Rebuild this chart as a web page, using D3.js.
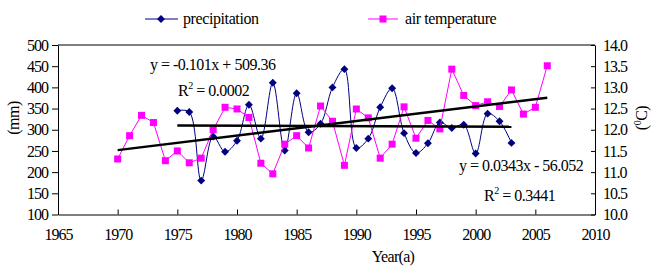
<!DOCTYPE html>
<html>
<head>
<meta charset="utf-8">
<script src="https://cdn.jsdelivr.net/npm/d3@7/dist/d3.min.js"></script>
<style>
  html, body { margin: 0; padding: 0; background: #fff; }
  svg text { font-family: "Liberation Serif", "Times New Roman", serif; fill: #000; }
</style>
</head>
<body>
<svg id="chart" width="653" height="266"></svg>
<script>
// ---- data ----
const precipYears = [1975,1976,1977,1978,1979,1980,1981,1982,1983,1984,1985,1986,1987,1988,1989,1990,1991,1992,1993,1994,1995,1996,1997,1998,1999,2000,2001,2002,2003];
const precipValues = [345,342,180,284,248,274,359,279,411,251,386,294,314,400,443,257,279,353,398,292,245,268,317,304,312,244,338,320,269];

const tempYears = [1970,1971,1972,1973,1974,1975,1976,1977,1978,1979,1980,1981,1982,1983,1984,1985,1986,1987,1988,1989,1990,1991,1992,1993,1994,1995,1996,1997,1998,1999,2000,2001,2002,2003,2004,2005,2006];
const tempValues = [11.31,11.86,12.34,12.17,11.27,11.50,11.22,11.33,12.00,12.53,12.49,12.29,11.21,10.96,11.66,11.86,11.57,12.56,12.20,11.16,12.49,12.28,11.33,11.66,12.54,11.80,12.22,12.02,13.43,12.81,12.57,12.66,12.55,12.94,12.37,12.53,13.51];

// trend equations: [slope, intercept], year span
const precipTrend = [-0.101, 509.36];
const precipTrendSpan = [1975, 2003];
const tempTrend = [0.0343, -56.052];
const tempTrendSpan = [1970, 2006];

const xTicks = [1965,1970,1975,1980,1985,1990,1995,2000,2005,2010];
const yLeftTicks = [100,150,200,250,300,350,400,450,500];
const yRightTicks = [10.0,10.5,11.0,11.5,12.0,12.5,13.0,13.5,14.0];

const legendLabels = ["precipitation", "air temperature"];
const precipEqText = "y = -0.101x + 509.36";
const precipR2 = "0.0002";
const tempEqText = "y = 0.0343x - 56.052";
const tempR2 = "0.3441";

// ---- layout ----
const L = 58, R = 595, T = 45, B = 214.5;
const svg = d3.select("#chart");

const x = d3.scaleLinear().domain([1965, 2010]).range([L, R]);
const yL = d3.scaleLinear().domain([100, 500]).range([B, T]);
const yR = d3.scaleLinear().domain([10, 14]).range([B, T]);

const blue = "#000080", pink = "#FF00FF";
const fs = 16;

// frame
svg.append("line").attr("x1", L).attr("x2", R).attr("y1", T).attr("y2", T).attr("stroke", "#000").attr("stroke-width", 1);

// x axis
const gx = svg.append("g").attr("transform", `translate(0,${B})`)
  .call(d3.axisBottom(x).tickValues(xTicks).tickFormat(d3.format("d")).tickSizeInner(-5).tickSizeOuter(0));
gx.select(".domain").attr("stroke", "#000");
gx.selectAll(".tick line").attr("stroke", "#000");
gx.selectAll("text").attr("font-size", fs).attr("letter-spacing", "-1px")
  .attr("y", 25).attr("dy", 0).attr("font-family", "Liberation Serif");

// left axis
const gl = svg.append("g").attr("transform", `translate(${L},0)`)
  .call(d3.axisLeft(yL).tickValues(yLeftTicks).tickFormat(d3.format("d")).tickSizeInner(6).tickSizeOuter(0));
gl.select(".domain").attr("stroke", "#000");
gl.selectAll(".tick line").attr("stroke", "#000");
gl.selectAll("text").attr("font-size", fs).attr("letter-spacing", "-1px")
  .attr("x", -10).attr("dy", "0.32em").attr("font-family", "Liberation Serif");

// right axis
const gr = svg.append("g").attr("transform", `translate(${R},0)`)
  .call(d3.axisRight(yR).tickValues(yRightTicks).tickFormat(d3.format(".1f")).tickSizeInner(-4).tickSizeOuter(0));
gr.select(".domain").attr("stroke", "#000");
gr.selectAll(".tick line").attr("stroke", "#000");
gr.selectAll("text").attr("font-size", fs).attr("letter-spacing", "-1px")
  .attr("x", 8).attr("dy", "0.32em").attr("font-family", "Liberation Serif");

// axis titles
svg.append("text").attr("transform", "translate(19,118) rotate(-90)")
  .attr("text-anchor", "middle").attr("font-size", fs).attr("letter-spacing", "-0.5px").text("(mm)");
const rt = svg.append("text").attr("transform", "translate(647,118) rotate(-90)")
  .attr("text-anchor", "middle").attr("font-size", fs).attr("letter-spacing", "-0.5px");
rt.append("tspan").text("(");
rt.append("tspan").attr("font-size", 10).attr("dy", -6).text("0");
rt.append("tspan").attr("dy", 6).text("C)");
svg.append("text").attr("x", 393).attr("y", 262).attr("text-anchor", "middle")
  .attr("font-size", fs).attr("letter-spacing", "-0.7px").text("Year(a)");

// precipitation series (smoothed)
const linePrecip = d3.line().x((d, i) => x(precipYears[i])).y(d => yL(d)).curve(d3.curveCatmullRom.alpha(0.5));
svg.append("path").datum(precipValues).attr("d", linePrecip)
  .attr("fill", "none").attr("stroke", blue).attr("stroke-width", 1);
const diamond = d3.symbol().type(d3.symbolDiamond2).size(40);
svg.selectAll(".pm").data(precipValues).enter().append("path")
  .attr("d", diamond)
  .attr("transform", (d, i) => `translate(${x(precipYears[i])},${yL(d)})`)
  .attr("fill", blue);

// temperature series
const lineTemp = d3.line().x((d, i) => x(tempYears[i])).y(d => yR(d));
svg.append("path").datum(tempValues).attr("d", lineTemp)
  .attr("fill", "none").attr("stroke", pink).attr("stroke-width", 1);
svg.selectAll(".tm").data(tempValues).enter().append("rect")
  .attr("x", (d, i) => x(tempYears[i]) - 3.5).attr("y", d => yR(d) - 3.5)
  .attr("width", 7).attr("height", 7).attr("fill", pink);

// trend lines
svg.append("line")
  .attr("x1", x(precipTrendSpan[0])).attr("x2", x(precipTrendSpan[1]))
  .attr("y1", yL(precipTrend[0] * precipTrendSpan[0] + precipTrend[1]))
  .attr("y2", yL(precipTrend[0] * precipTrendSpan[1] + precipTrend[1]))
  .attr("stroke", "#000").attr("stroke-width", 2.5);
svg.append("line")
  .attr("x1", x(tempTrendSpan[0])).attr("x2", x(tempTrendSpan[1]))
  .attr("y1", yR(tempTrend[0] * tempTrendSpan[0] + tempTrend[1]))
  .attr("y2", yR(tempTrend[0] * tempTrendSpan[1] + tempTrend[1]))
  .attr("stroke", "#000").attr("stroke-width", 2.5);

// equation labels
function r2Label(xp, yp, val) {
  const t = svg.append("text").attr("x", xp).attr("y", yp).attr("font-size", fs).attr("letter-spacing", "-0.5px");
  t.append("tspan").text("R");
  t.append("tspan").attr("font-size", 10).attr("dy", -7).text("2");
  t.append("tspan").attr("dy", 7).text(" = " + val);
}
svg.append("text").attr("x", 150).attr("y", 70).attr("font-size", fs).attr("letter-spacing", "-0.5px").text(precipEqText);
r2Label(178, 96, precipR2);
svg.append("text").attr("x", 459).attr("y", 171).attr("font-size", fs).attr("letter-spacing", "-0.5px").text(tempEqText);
r2Label(484, 201, tempR2);

// legend
const lg = svg.append("g");
lg.append("line").attr("x1", 145).attr("x2", 178).attr("y1", 19).attr("y2", 19).attr("stroke", blue).attr("stroke-width", 1);
lg.append("path").attr("d", diamond).attr("transform", "translate(161,19)").attr("fill", blue);
lg.append("text").attr("x", 183).attr("y", 24).attr("font-size", fs).attr("letter-spacing", "-0.4px").text(legendLabels[0]);
lg.append("line").attr("x1", 368).attr("x2", 398).attr("y1", 19).attr("y2", 19).attr("stroke", pink).attr("stroke-width", 1);
lg.append("rect").attr("x", 379.5).attr("y", 15.5).attr("width", 7).attr("height", 7).attr("fill", pink);
lg.append("text").attr("x", 405).attr("y", 24).attr("font-size", fs).attr("letter-spacing", "-0.4px").text(legendLabels[1]);
</script>
</body>
</html>
